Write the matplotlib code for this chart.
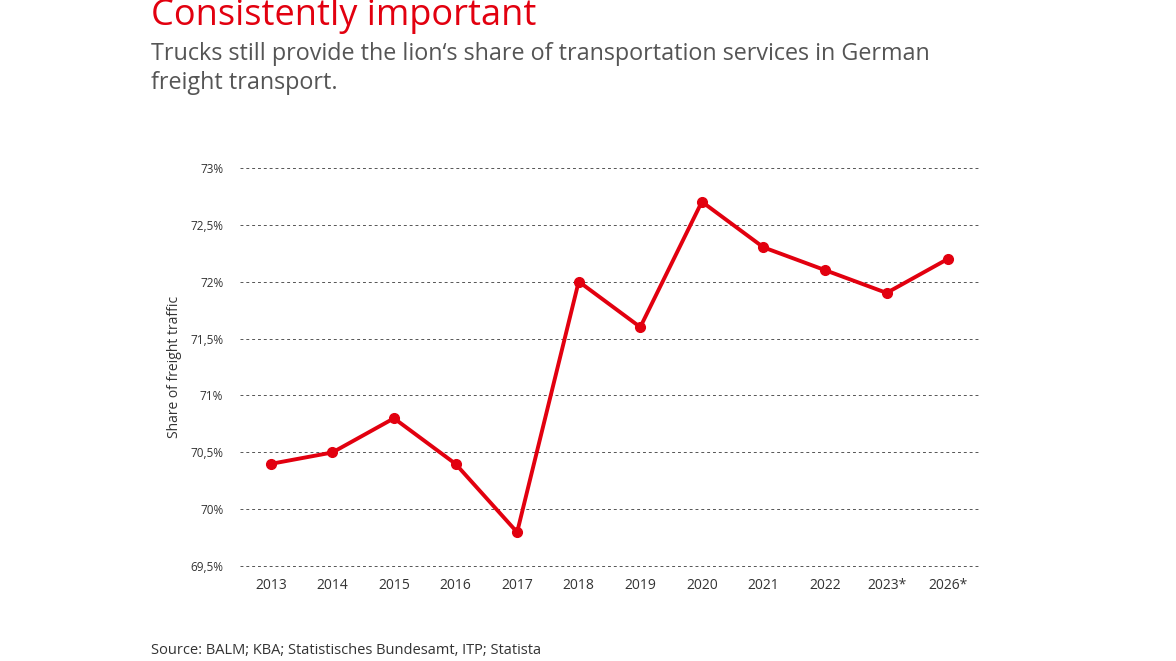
import matplotlib.pyplot as plt

years = ['2013', '2014', '2015', '2016', '2017', '2018', '2019', '2020', '2021', '2022', '2023*', '2026*']
share = [70.4, 70.5, 70.8, 70.4, 69.8, 72.0, 71.6, 72.7, 72.3, 72.1, 71.9, 72.2]
yticks = [69.5, 70, 70.5, 71, 71.5, 72, 72.5, 73]
ytick_labels = ['69,5%', '70%', '70,5%', '71%', '71,5%', '72%', '72,5%', '73%']

plt.rcParams['font.family'] = ['Open Sans', 'DejaVu Sans']
red = '#e2000f'

fig = plt.figure(figsize=(11.76, 6.61), dpi=100)
ax = fig.add_axes([240 / 1176, 1 - 567 / 661, 739 / 1176, 400 / 661])

x = list(range(len(years)))
ax.plot(x, share, color=red, linewidth=2.8, marker='o', markersize=7, zorder=3)

ax.set_xlim(-0.5, len(years) - 0.5)
ax.set_ylim(69.495, 73.005)
ax.set_xticks(x)
ax.set_xticklabels(years, fontsize=10, color='#333333')
ax.set_yticks(yticks)
ax.set_yticklabels(ytick_labels, fontsize=8.5, color='#333333')
ax.tick_params(length=0)
ax.tick_params(axis='x', pad=8)
ax.tick_params(axis='y', pad=12)
ax.grid(axis='y', linestyle=(0, (3, 3)), color='#555555', linewidth=0.7)
for s in ax.spines.values():
    s.set_visible(False)
ax.set_ylabel('Share of freight traffic', fontsize=10, color='#333333', labelpad=6)

fig.text(151 / 1176, 1 - 25 / 661, 'Consistently important', color=red,
         fontsize=26, va='baseline')
fig.text(151 / 1176, 1 - 42 / 661, 'Trucks still provide the lion\u2018s share of transportation services in German\nfreight transport.',
         color='#555555', fontsize=16.8, va='top', linespacing=1.3)
fig.text(151 / 1176, 1 - 650 / 661, 'Source: BALM; KBA; Statistisches Bundesamt, ITP; Statista',
         color='#333333', fontsize=10.5, va='center')

fig.savefig('out.png', dpi=100)
